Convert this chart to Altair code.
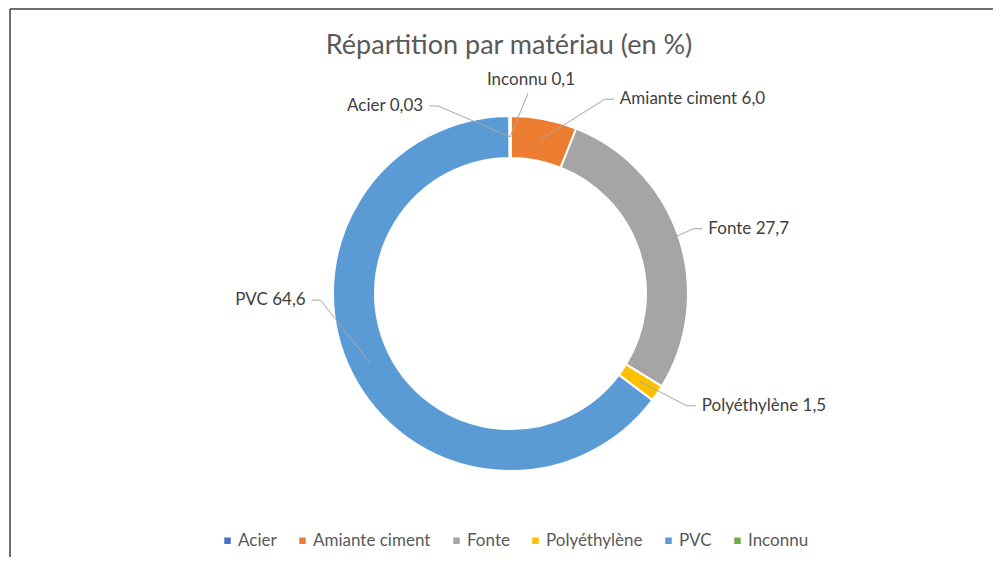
import math
import altair as alt
import pandas as pd

# ---- data ----
names = ["Acier", "Amiante ciment", "Fonte", "Polyéthylène", "PVC", "Inconnu"]
values = [0.03, 6.0, 27.7, 1.5, 64.6, 0.1]
decimals = [2, 1, 1, 1, 1, 1]
colors = ["#4472C4", "#ED7D31", "#A5A5A5", "#FFC000", "#5B9BD5", "#70AD47"]
title = "Répartition par matériau (en %)"

# ---- label layout (annotation placement: elbow angle in degrees, elbow radius, text side) ----
label_angle = [338.9, 25.9, 70.5, 122.5, 268.0, 5.0]
label_radius = [201, 216, 194, 209, 190, 201]
label_side = ["w", "e", "e", "e", "w", "n"]

W, H = 983, 548
cx, cy = 500.5, 284.5
R_OUT, R_IN = 177.5, 135.5
R_MID = (R_OUT + R_IN) / 2
FONT = "Lato"

total = sum(values)
cum = 0.0
lead_rows, text_rows = [], []
for i, (n, v) in enumerate(zip(names, values)):
    mid = (cum + v / 2) / total * 2 * math.pi
    cum += v
    ax, ay = cx + R_MID * math.sin(mid), cy - R_MID * math.cos(mid)
    la = math.radians(label_angle[i])
    ex, ey = cx + label_radius[i] * math.sin(la), cy - label_radius[i] * math.cos(la)
    pts = [(ax, ay), (ex, ey)]
    side = label_side[i]
    if side == "e":
        pts.append((ex + 9, ey))
        tx, ty = ex + 15, ey
    elif side == "w":
        pts.append((ex - 9, ey))
        tx, ty = ex - 15, ey
    else:
        tx, ty = ex + 3, ey - 13
    for k, (px, py) in enumerate(pts):
        lead_rows.append({"name": n, "k": k, "x": px, "y": py})
    txt = f"{n} " + f"{v:.{decimals[i]}f}".replace(".", ",")
    text_rows.append({"name": n, "label": txt, "x": tx, "y": ty, "side": side})

base_df = pd.DataFrame({"name": names, "value": values, "idx": list(range(len(names)))})
lead_df = pd.DataFrame(lead_rows)
text_df = pd.DataFrame(text_rows)

xs = alt.Scale(domain=[0, W], nice=False, zero=False)
ys = alt.Scale(domain=[0, H], nice=False, zero=False, reverse=True)

arcs = alt.Chart(base_df).mark_arc(
    outerRadius=R_OUT, innerRadius=R_IN, stroke="white", strokeWidth=2
).encode(
    theta=alt.Theta("value:Q", stack=True),
    color=alt.Color(
        "name:N",
        scale=alt.Scale(domain=names, range=colors),
        sort=names,
        legend=alt.Legend(
            title=None,
            orient="none",
            legendX=209,
            legendY=523,
            direction="horizontal",
            symbolType="square",
            symbolSize=42,
            symbolStrokeWidth=0,
            labelFont=FONT,
            labelFontSize=17,
            labelColor="#595959",
            labelOffset=2,
            columnPadding=17,
        ),
    ),
    order=alt.Order("idx:Q"),
    x=alt.value(cx),
    y=alt.value(cy),
)

leads = alt.Chart(lead_df).mark_line(color="#A6A6A6", strokeWidth=1).encode(
    x=alt.X("x:Q", scale=xs, axis=None),
    y=alt.Y("y:Q", scale=ys, axis=None),
    detail="name:N",
    order="k:Q",
)

def text_layer(side, align):
    return alt.Chart(text_df).transform_filter(
        alt.datum.side == side
    ).mark_text(
        align=align, baseline="middle", font=FONT, fontSize=17, color="#404040"
    ).encode(
        x=alt.X("x:Q", scale=xs, axis=None),
        y=alt.Y("y:Q", scale=ys, axis=None),
        text="label:N",
    )

labels_e = text_layer("e", "left")
labels_w = text_layer("w", "right")
labels_n = text_layer("n", "center")

title_layer = alt.Chart(pd.DataFrame({"t": [title]})).mark_text(
    align="center", baseline="alphabetic", font=FONT, fontSize=27, color="#595959"
).encode(text="t:N", x=alt.value(499), y=alt.value(45))

# frame: only top and left edges are visible in the reference
frame_top = alt.Chart(pd.DataFrame({"e": ["top"]})).mark_rule(
    color="#404040", strokeWidth=1.5
).encode(x=alt.value(0), x2=alt.value(W), y=alt.value(0))
frame_left = alt.Chart(pd.DataFrame({"e": ["left"]})).mark_rule(
    color="#404040", strokeWidth=1.5
).encode(x=alt.value(0), y=alt.value(0), y2=alt.value(H))

chart = alt.layer(
    arcs, leads, labels_e, labels_w, labels_n, title_layer, frame_top, frame_left
).properties(
    width=W,
    height=H,
    autosize="none",
    padding={"left": 2, "top": 1, "right": 0, "bottom": 0},
    background="white",
).configure_view(stroke=None)

chart.save("out.html", embed_options={"renderer": "svg", "actions": False})
